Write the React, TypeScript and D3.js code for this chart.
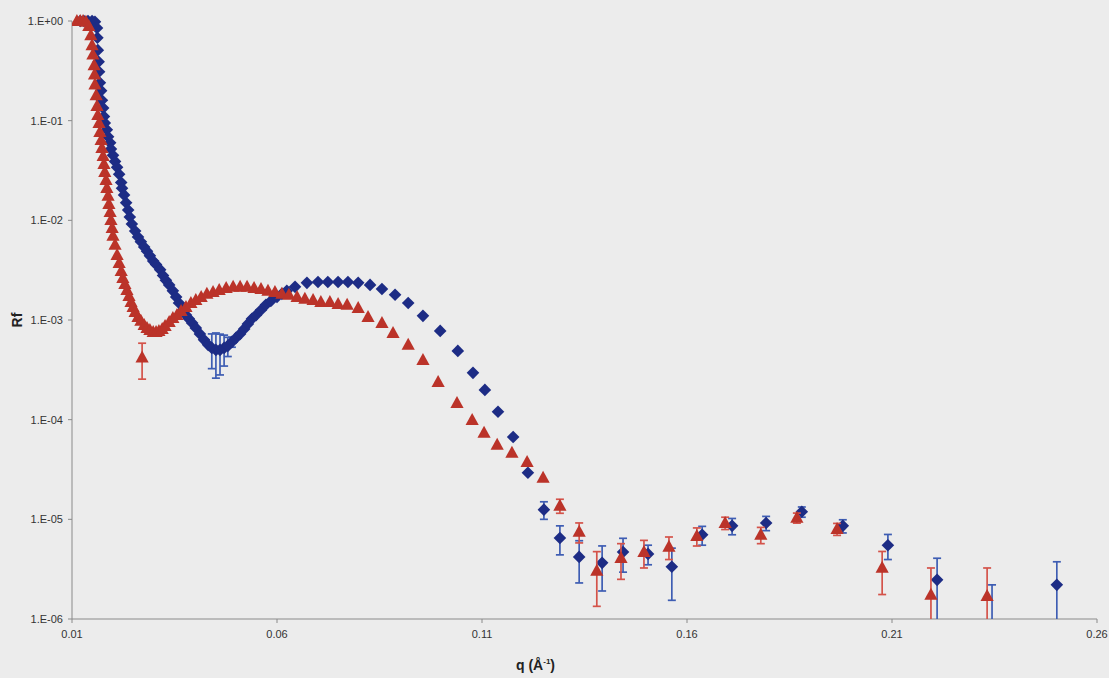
import React from "react";
import * as d3 from "d3";

// ---------- data (q in Å^-1, Rf, symmetric error dR) ----------
const blueQ = [
  0.0120, 0.0129, 0.0139, 0.0149, 0.0156, 0.0161, 0.0162, 0.0163, 0.0165, 0.0166,
  0.0168, 0.0171, 0.0173, 0.0176, 0.0178, 0.0180, 0.0185, 0.0188, 0.0193, 0.0195,
  0.0200, 0.0205, 0.0210, 0.0215, 0.0220, 0.0222, 0.0227, 0.0232, 0.0237, 0.0241,
  0.0246, 0.0254, 0.0261, 0.0268, 0.0276, 0.0283, 0.0290, 0.0298, 0.0305, 0.0315,
  0.0322, 0.0329, 0.0337, 0.0346, 0.0354, 0.0361, 0.0371, 0.0378, 0.0385, 0.0393,
  0.0402, 0.0412, 0.0422, 0.0432, 0.0441, 0.0451, 0.0461, 0.0471, 0.0480, 0.0490,
  0.0500, 0.0510, 0.0520, 0.0529, 0.0539, 0.0549, 0.0561, 0.0573, 0.0585, 0.0600,
  0.0612, 0.0624, 0.0644, 0.0673, 0.0700, 0.0724, 0.0749, 0.0773, 0.0798, 0.0827,
  0.0856, 0.0888, 0.0920, 0.0956, 0.0998, 0.1041, 0.1078, 0.1107, 0.1139, 0.1176,
  0.1212, 0.1251, 0.1290, 0.1337, 0.1393, 0.1444, 0.1505, 0.1563, 0.1637, 0.1710,
  0.1793, 0.1880, 0.1980, 0.2090, 0.2210, 0.2344, 0.2502,
];
const blueR = [
  1.0, 1.0, 1.0, 1.0, 0.98, 0.85, 0.68, 0.51, 0.39, 0.31,
  0.24, 0.20, 0.16, 0.134, 0.11, 0.095, 0.081, 0.069, 0.060, 0.052,
  0.045, 0.039, 0.034, 0.029, 0.024, 0.021, 0.018, 0.015, 0.0127, 0.0108,
  0.0092, 0.0078, 0.0068, 0.0061, 0.0054, 0.0049, 0.0044, 0.0039, 0.0036, 0.0032,
  0.0028, 0.0025, 0.00225, 0.00196, 0.0017, 0.00148, 0.00126, 0.00112, 0.00103, 0.000935,
  0.000833, 0.000725, 0.000632, 0.000563, 0.000525, 0.000501, 0.000501, 0.000525, 0.00055, 0.000603,
  0.000661, 0.000725, 0.000814, 0.000914, 0.00103, 0.00112, 0.00126, 0.00142, 0.00155, 0.0017,
  0.00183, 0.00196, 0.00215, 0.00236, 0.00241, 0.00241, 0.00241, 0.00241, 0.00236, 0.00225,
  0.00205, 0.00179, 0.00148, 0.0011, 0.000777, 0.00049, 0.000295, 0.000199, 0.00012, 0.000067,
  0.0000293, 0.0000125, 0.0000065, 0.0000042, 0.00000366, 0.0000047, 0.0000045, 0.00000334, 0.000007, 0.0000086,
  0.0000092, 0.0000119, 0.0000086, 0.0000055, 0.00000247, 0.00000085, 0.0000022,
];
const blueErr = [
  0, 0, 0, 0, 0, 0, 0, 0, 0, 0,
  0, 0, 0, 0, 0, 0, 0, 0, 0, 0,
  0, 0, 0, 0, 0, 0, 0, 0, 0, 0,
  0, 0, 0, 0, 0, 0, 0, 0, 0, 0,
  0, 0, 0, 0, 0, 0, 0, 0, 0, 0,
  0, 0, 0, 0, 0.0002, 0.00024, 0.00022, 0.00018, 0.00012, 0.00007,
  0, 0, 0, 0, 0, 0, 0, 0, 0, 0,
  0, 0, 0, 0, 0, 0, 0, 0, 0, 0,
  0, 0, 0, 0, 0, 0, 0, 0, 0, 0,
  0, 0.0000025, 0.0000021, 0.0000019, 0.00000175, 0.00000175, 0.000001, 0.0000018, 0.0000015, 0.0000016,
  0.0000015, 0.0000014, 0.0000013, 0.00000155, 0.0000016, 0.00000135, 0.00000155,
];

const redQ = [
  0.0112, 0.0120, 0.0127, 0.0134, 0.0141, 0.0146, 0.0149, 0.0151, 0.0154, 0.0155,
  0.0156, 0.0159, 0.0161, 0.0163, 0.0166, 0.0168, 0.0171, 0.0173, 0.0176, 0.0178,
  0.0180, 0.0183, 0.0185, 0.0188, 0.0190, 0.0193, 0.0195, 0.0198, 0.0200, 0.0205,
  0.0210, 0.0215, 0.0220, 0.0224, 0.0229, 0.0234, 0.0239, 0.0244, 0.0249, 0.0254,
  0.0261, 0.0268, 0.0271, 0.0276, 0.0283, 0.0290, 0.0298, 0.0305, 0.0312, 0.0320,
  0.0327, 0.0337, 0.0346, 0.0356, 0.0366, 0.0378, 0.0390, 0.0402, 0.0415, 0.0429,
  0.0444, 0.0459, 0.0476, 0.0493, 0.0510, 0.0527, 0.0544, 0.0561, 0.0578, 0.0595,
  0.0612, 0.0629, 0.0649, 0.0668, 0.0688, 0.0707, 0.0729, 0.0749, 0.0771, 0.0798,
  0.0822, 0.0856, 0.0883, 0.0920, 0.0956, 0.0993, 0.1039, 0.1076, 0.1105, 0.1137,
  0.1173, 0.1210, 0.1249, 0.1290, 0.1337, 0.1380, 0.1439, 0.1495, 0.1556, 0.1624,
  0.1693, 0.1780, 0.1868, 0.1966, 0.2076, 0.2195, 0.2332,
];
const redR = [
  1.0, 1.0, 1.0, 0.98, 0.89, 0.72, 0.57, 0.46, 0.36, 0.29,
  0.23, 0.18, 0.14, 0.114, 0.095, 0.077, 0.064, 0.0532, 0.0443, 0.0368,
  0.0306, 0.0254, 0.0211, 0.0176, 0.0146, 0.0121, 0.0101, 0.0084, 0.007, 0.0057,
  0.0045, 0.00374, 0.00311, 0.00264, 0.0023, 0.002, 0.00174, 0.00152, 0.00135, 0.0012,
  0.00107, 0.00098, 0.00042, 0.000893, 0.000833, 0.000796, 0.00076, 0.00076, 0.000777, 0.000814,
  0.000873, 0.000957, 0.00105, 0.00112, 0.00123, 0.00135, 0.00148, 0.00159, 0.0017, 0.00183,
  0.00191, 0.002, 0.0021, 0.00215, 0.00215, 0.00215, 0.0021, 0.00205, 0.00196, 0.00191,
  0.00183, 0.00179, 0.0017, 0.00163, 0.00159, 0.00152, 0.00152, 0.00145, 0.00142, 0.00132,
  0.00107, 0.000935, 0.000742, 0.000563, 0.000398, 0.000239, 0.000147, 0.0000995, 0.000074, 0.000056,
  0.0000465, 0.0000377, 0.0000261, 0.0000137, 0.0000075, 0.00000304, 0.0000041, 0.0000047, 0.0000053, 0.0000068,
  0.0000092, 0.000007, 0.00001035, 0.000008, 0.00000326, 0.00000175, 0.0000017,
];
const redErr = [
  0, 0, 0, 0, 0, 0, 0, 0, 0, 0,
  0, 0, 0, 0, 0, 0, 0, 0, 0, 0,
  0, 0, 0, 0, 0, 0, 0, 0, 0, 0,
  0, 0, 0, 0, 0, 0, 0, 0, 0, 0,
  0, 0, 0.000165, 0, 0, 0, 0, 0, 0, 0,
  0, 0, 0, 0, 0, 0, 0, 0, 0, 0,
  0, 0, 0, 0, 0, 0, 0, 0, 0, 0,
  0, 0, 0, 0, 0, 0, 0, 0, 0, 0,
  0, 0, 0, 0, 0, 0, 0, 0, 0, 0,
  0, 0, 0, 0.0000022, 0.0000017, 0.0000017, 0.0000016, 0.00000145, 0.00000135, 0.0000014,
  0.0000013, 0.0000013, 0.0000012, 0.0000011, 0.0000015, 0.0000015, 0.00000155,
];

const xTicks = [0.01, 0.06, 0.11, 0.16, 0.21, 0.26];
const xTickLabels = ["0.01", "0.06", "0.11", "0.16", "0.21", "0.26"];
const yTicks = [1, 1e-1, 1e-2, 1e-3, 1e-4, 1e-5, 1e-6];
const yTickLabels = ["1.E+00", "1.E-01", "1.E-02", "1.E-03", "1.E-04", "1.E-05", "1.E-06"];

// ---------- layout ----------
const W = 1109;
const H = 678;
const X0 = 72, X1 = 1097, Y0 = 21, Y1 = 619;

const BLUE = "#1d2c85";
const BLUE_ERR = "#3e5db3";
const RED = "#bb3329";
const RED_ERR = "#d4534a";
const BG = "#ececec";
const AXIS = "#8a8a8a";
const FONT = "'Liberation Sans', Arial, sans-serif";

const DIAMOND = "M0,-6.3L6.3,0L0,6.3L-6.3,0Z";
const TRIANGLE = "M0,-7L6.6,5L-6.6,5Z";

export default function App() {
  const x = d3.scaleLinear().domain([0.01, 0.26]).range([X0, X1]);
  const y = d3.scaleLog().domain([1e-6, 1]).range([Y1, Y0]);

  const errBars = (qs: number[], rs: number[], es: number[], color: string) =>
    qs.map((q, i) => {
      const e = es[i];
      if (!e) return null;
      const cx = x(q);
      const top = y(rs[i] + e);
      const lowV = rs[i] - e;
      const bot = lowV > 1e-7 ? y(lowV) : Y1 + 20;
      return (
        <g key={"e" + i} stroke={color} strokeWidth={1.7}>
          <line x1={cx} x2={cx} y1={top} y2={bot} />
          <line x1={cx - 4} x2={cx + 4} y1={top} y2={top} />
          <line x1={cx - 4} x2={cx + 4} y1={bot} y2={bot} />
        </g>
      );
    });

  return (
    <div style={{ position: "fixed", left: 0, top: 0 }}>
      <svg width={W} height={H} style={{ display: "block" }}>
        <defs>
          <clipPath id="plotClip">
            <rect x={X0} y={0} width={X1 - X0 + 10} height={Y1} />
          </clipPath>
        </defs>
        <rect x={0} y={0} width={W} height={H} fill={BG} />

        {/* axes */}
        <line x1={X0} x2={X0} y1={Y0} y2={Y1} stroke={AXIS} strokeWidth={1} />
        <line x1={X0} x2={X1} y1={Y1} y2={Y1} stroke={AXIS} strokeWidth={1} />
        {yTicks.map((t, i) => (
          <g key={"yt" + i}>
            <line x1={X0 - 4} x2={X0} y1={y(t)} y2={y(t)} stroke={AXIS} />
            <text
              x={X0 - 9}
              y={y(t)}
              dy="0.35em"
              textAnchor="end"
              fontFamily={FONT}
              fontSize={11}
              fill="#333"
            >
              {yTickLabels[i]}
            </text>
          </g>
        ))}
        {xTicks.map((t, i) => (
          <g key={"xt" + i}>
            <line x1={x(t)} x2={x(t)} y1={Y1} y2={Y1 + 4} stroke={AXIS} />
            <text
              x={x(t)}
              y={Y1 + 19}
              textAnchor="middle"
              fontFamily={FONT}
              fontSize={11}
              fill="#333"
            >
              {xTickLabels[i]}
            </text>
          </g>
        ))}

        {/* axis titles */}
        <text
          transform={`translate(22,${y(1e-3)}) rotate(-90)`}
          textAnchor="middle"
          fontFamily={FONT}
          fontSize={14}
          fontWeight="bold"
          fill="#222"
        >
          Rf
        </text>
        <text x={516} y={670} fontFamily={FONT} fontSize={14} fontWeight="bold" fill="#222">
          q (Å
          <tspan dy={-6} fontSize={8}>-1</tspan>
          <tspan dy={6}>)</tspan>
        </text>

        <g clipPath="url(#plotClip)">
          {/* blue series */}
          {errBars(blueQ, blueR, blueErr, BLUE_ERR)}
          {blueQ.map((q, i) => (
            <path
              key={"b" + i}
              d={DIAMOND}
              transform={`translate(${x(q)},${y(blueR[i])})`}
              fill={BLUE}
            />
          ))}
          {/* red series */}
          {errBars(redQ, redR, redErr, RED_ERR)}
          {redQ.map((q, i) => (
            <path
              key={"r" + i}
              d={TRIANGLE}
              transform={`translate(${x(q)},${y(redR[i])})`}
              fill={RED}
            />
          ))}
        </g>
      </svg>
    </div>
  );
}
